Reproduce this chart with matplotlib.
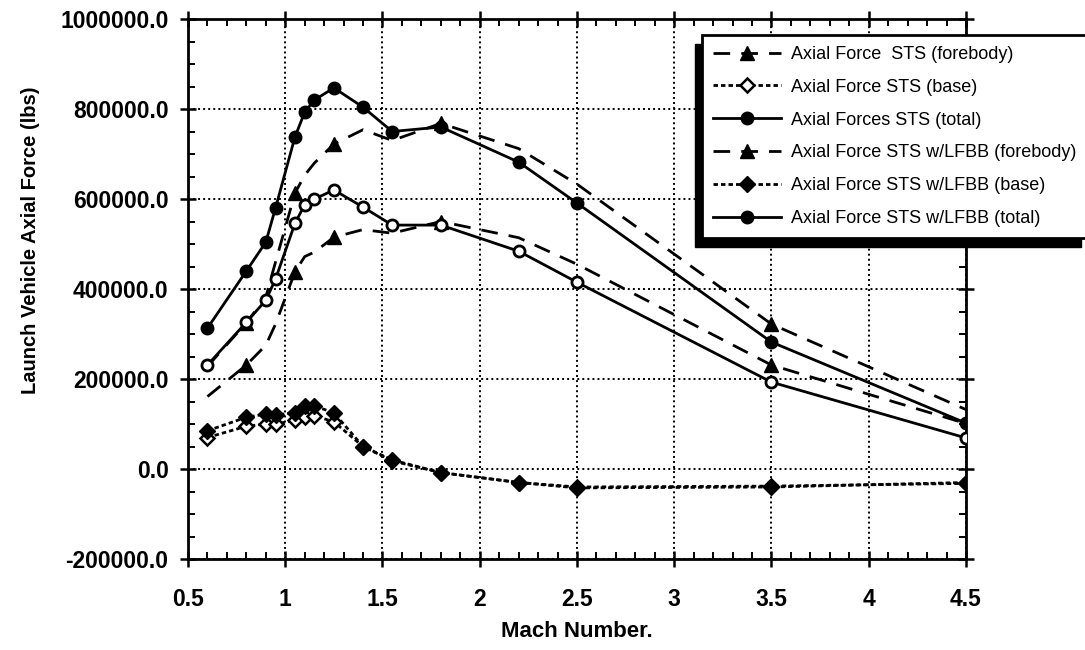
"""
Launch vehicle axial force vs Mach number
STS alone and STS with LFBB (forebody, base and total).
"""

import matplotlib
matplotlib.use('Agg')
import matplotlib.pyplot as plt
from matplotlib.lines import Line2D
from matplotlib.patches import Rectangle
from matplotlib.ticker import MultipleLocator, FormatStrFormatter

# Mach numbers shared by all six curves
mach = [0.6, 0.8, 0.9, 0.95, 1.05, 1.1, 1.15, 1.25, 1.4, 1.55, 1.8, 2.2, 2.5, 3.5, 4.5]

# STS alone (lbs)
sts_forebody = [161000, 231000, 275000, 322000, 438000, 472000, 482000, 515000,
                532000, 524000, 550000, 514000, 455000, 231000, 101000]
sts_base = [70000, 95000, 100000, 100000, 108000, 115000, 118000, 105000,
            50000, 18000, -8000, -30000, -40000, -38000, -32000]
sts_total = [231000, 326000, 375000, 422000, 546000, 587000, 600000, 620000,
             582000, 542000, 542000, 484000, 415000, 193000, 69000]

# STS with LFBB (lbs)
lfbb_forebody = [228000, 325000, 382000, 460000, 613000, 653000, 680000, 722000,
                 754000, 730000, 768000, 712000, 633000, 322000, 132000]
lfbb_base = [85000, 115000, 122000, 120000, 125000, 140000, 140000, 125000,
             50000, 20000, -8000, -30000, -42000, -40000, -30000]
lfbb_total = [313000, 440000, 504000, 580000, 738000, 793000, 820000, 847000,
              804000, 750000, 760000, 682000, 591000, 282000, 102000]

legend_labels = [
    'Axial Force  STS (forebody)',
    'Axial Force STS (base)',
    'Axial Forces STS (total)',
    'Axial Force STS w/LFBB (forebody)',
    'Axial Force STS w/LFBB (base)',
    'Axial Force STS w/LFBB (total)',
]

FONTE = ['Liberation Sans', 'DejaVu Sans']
DASH_LONGO = (0, (6, 4))
DASH_CURTO = (0, (1.6, 1.1))


def desenhar_curvas(ax):
    """
    Draws the six curves
    """
    # forebody: long dashes, triangles only on some points
    ax.plot(mach, sts_forebody, color='black', lw=2, linestyle=DASH_LONGO,
            marker='^', ms=10, markevery=(1, 3), zorder=3)
    ax.plot(mach, lfbb_forebody, color='black', lw=2, linestyle=DASH_LONGO,
            marker='^', ms=10, markevery=(1, 3), zorder=3)

    # base: short dashes with diamonds
    ax.plot(mach, sts_base, color='black', lw=2, linestyle=DASH_CURTO,
            marker='D', ms=7, mfc='white', mec='black', mew=1.8, zorder=4)
    ax.plot(mach, lfbb_base, color='black', lw=2, linestyle=DASH_CURTO,
            marker='D', ms=8, mfc='black', mec='black', zorder=4)

    # totals: solid with circles
    ax.plot(mach, sts_total, color='black', lw=2, linestyle='-',
            marker='o', ms=8, mfc='white', mec='black', mew=2, zorder=5)
    ax.plot(mach, lfbb_total, color='black', lw=2, linestyle='-',
            marker='o', ms=9, mfc='black', mec='black', zorder=5)


def configurar_eixos(ax):
    """
    Limits, ticks, grid and labels
    """
    ax.set_xlim(0.5, 4.5)
    ax.set_ylim(-200000, 1000000)

    ax.xaxis.set_major_locator(MultipleLocator(0.5))
    ax.xaxis.set_minor_locator(MultipleLocator(0.1))
    ax.yaxis.set_major_locator(MultipleLocator(200000))
    ax.yaxis.set_minor_locator(MultipleLocator(50000))
    ax.xaxis.set_major_formatter(FormatStrFormatter('%g'))
    ax.yaxis.set_major_formatter(FormatStrFormatter('%.1f'))

    ax.tick_params(which='major', direction='inout', length=12, width=1.8,
                   top=True, right=True, labelsize=16.5)
    ax.tick_params(axis='x', which='major', pad=15)
    ax.tick_params(axis='y', which='major', pad=8)
    ax.tick_params(which='minor', direction='in', length=5, width=1.4,
                   top=True, right=True)
    for lab in ax.get_xticklabels() + ax.get_yticklabels():
        lab.set_fontweight('bold')
        lab.set_family(FONTE)

    for spine in ax.spines.values():
        spine.set_linewidth(2)

    ax.grid(True, which='major', color='black', linestyle=(0, (1, 1.6)), lw=1.4)
    ax.set_axisbelow(True)

    ax.set_xlabel('Mach Number.', fontsize=16, fontweight='bold',
                  family=FONTE, labelpad=7)
    ax.set_ylabel('Launch Vehicle Axial Force (lbs)', fontsize=14.5,
                  fontweight='bold', family=FONTE)
    # label sits higher than the axes centre in the original
    ax.yaxis.set_label_coords(-0.19, 0.59)


def desenhar_legenda(fig):
    """
    Legend box with a solid black drop shadow (down/left)
    """
    handles = [
        Line2D([], [], color='black', lw=2, linestyle=DASH_LONGO, marker='^', ms=10,
               markevery=[1]),
        Line2D([], [], color='black', lw=2, linestyle=DASH_CURTO, marker='D', ms=7,
               mfc='white', mew=1.8),
        Line2D([], [], color='black', lw=2, marker='o', ms=9),
        Line2D([], [], color='black', lw=2, linestyle=DASH_LONGO, marker='^', ms=10,
               markevery=[1]),
        Line2D([], [], color='black', lw=2, linestyle=DASH_CURTO, marker='D', ms=8),
        Line2D([], [], color='black', lw=2, marker='o', ms=9),
    ]
    leg = fig.legend(handles, legend_labels, loc='upper left',
                     bbox_to_anchor=(702 / 1085, 1 - 35 / 650),
                     borderaxespad=0, fancybox=False, framealpha=1,
                     edgecolor='black', handlelength=3.8, labelspacing=0.88,
                     borderpad=0.6, handletextpad=0.55,
                     prop={'family': FONTE, 'size': 13})
    leg.get_frame().set_linewidth(2)
    leg.set_zorder(10)

    fig.canvas.draw()
    bb = leg.get_frame().get_window_extent().transformed(fig.transFigure.inverted())
    dx = 7 / 1085
    dy = 9 / 650
    sombra = Rectangle((bb.x0 - dx, bb.y0 - dy), bb.width, bb.height,
                       transform=fig.transFigure, facecolor='black',
                       edgecolor='black', zorder=9)
    fig.add_artist(sombra)


def main():
    fig = plt.figure(figsize=(10.85, 6.5), dpi=100)
    ax = fig.add_axes([188 / 1085, 1 - 559 / 650, (966 - 188) / 1085, (559 - 19) / 650])

    desenhar_curvas(ax)
    configurar_eixos(ax)
    desenhar_legenda(fig)

    fig.savefig('out.png', dpi=100)
    plt.close(fig)


if __name__ == "__main__":
    main()
